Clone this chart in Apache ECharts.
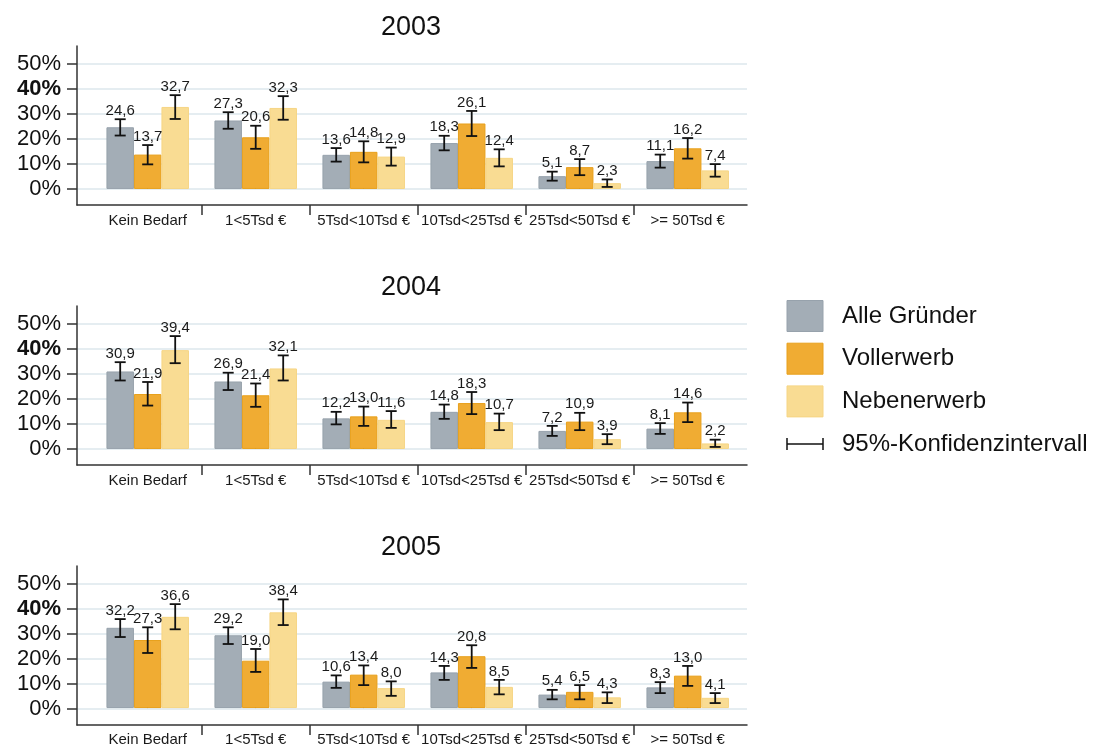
<!DOCTYPE html>
<html>
<head>
<meta charset="utf-8">
<script src="https://cdn.jsdelivr.net/npm/echarts@6/dist/echarts.min.js"></script>
<style>
  html, body { margin: 0; padding: 0; background: #fff; }
  #chart { width: 1094px; height: 747px; }
</style>
</head>
<body>
<div id="chart"></div>
<script>
// Kapitalbedarf bei Gründung, Anteile in Prozent je Jahr
const years = ['2003', '2004', '2005'];
const categories = ['Kein Bedarf', '1<5Tsd €', '5Tsd<10Tsd €', '10Tsd<25Tsd €', '25Tsd<50Tsd €', '>= 50Tsd €'];
const seriesNames = ['Alle Gründer', 'Vollerwerb', 'Nebenerwerb'];
const ciLabel = '95%-Konfidenzintervall';
const yTicks = [0, 10, 20, 30, 40, 50];

const alle2003 = [24.6, 27.3, 13.6, 18.3, 5.1, 11.1];
const voll2003 = [13.7, 20.6, 14.8, 26.1, 8.7, 16.2];
const neben2003 = [32.7, 32.3, 12.9, 12.4, 2.3, 7.4];

const alle2004 = [30.9, 26.9, 12.2, 14.8, 7.2, 8.1];
const voll2004 = [21.9, 21.4, 13.0, 18.3, 10.9, 14.6];
const neben2004 = [39.4, 32.1, 11.6, 10.7, 3.9, 2.2];

const alle2005 = [32.2, 29.2, 10.6, 14.3, 5.4, 8.3];
const voll2005 = [27.3, 19.0, 13.4, 20.8, 6.5, 13.0];
const neben2005 = [36.6, 38.4, 8.0, 8.5, 4.3, 4.1];

// 95%-Konfidenzintervalle [untere, obere Grenze]
const alle2003CI = [[21.3, 27.8], [24.0, 30.6], [10.9, 16.3], [15.4, 21.2], [3.3, 6.9], [8.5, 13.7]];
const voll2003CI = [[9.8, 17.5], [16.0, 25.2], [10.6, 19.0], [21.1, 31.1], [5.5, 11.9], [12.1, 20.3]];
const neben2003CI = [[27.9, 37.4], [27.6, 37.0], [9.3, 16.5], [9.0, 15.8], [0.8, 3.8], [4.9, 9.9]];

const alle2004CI = [[27.3, 34.6], [23.5, 30.4], [9.8, 14.8], [12.0, 17.7], [5.2, 9.2], [6.0, 10.3]];
const voll2004CI = [[17.3, 26.7], [16.8, 26.1], [9.2, 16.9], [13.9, 22.7], [7.5, 14.4], [10.7, 18.5]];
const neben2004CI = [[34.2, 45.0], [27.3, 37.3], [8.4, 15.1], [7.5, 14.1], [1.9, 5.9], [0.8, 3.7]];

const alle2005CI = [[28.5, 35.7], [25.7, 32.4], [8.1, 13.1], [11.3, 16.9], [3.5, 7.3], [6.0, 10.4]];
const voll2005CI = [[22.1, 32.4], [14.5, 23.7], [9.2, 17.1], [16.1, 25.2], [3.5, 9.2], [8.9, 16.9]];
const neben2005CI = [[31.6, 41.7], [33.3, 43.6], [4.9, 10.7], [5.5, 11.3], [2.0, 6.3], [2.0, 6.0]];

const panels = [
  { year: years[0], values: [alle2003, voll2003, neben2003], ci: [alle2003CI, voll2003CI, neben2003CI] },
  { year: years[1], values: [alle2004, voll2004, neben2004], ci: [alle2004CI, voll2004CI, neben2004CI] },
  { year: years[2], values: [alle2005, voll2005, neben2005], ci: [alle2005CI, voll2005CI, neben2005CI] }
];

// ---- layout & style ----
const FONT = '"Liberation Sans", Arial, Helvetica, sans-serif';
const FILL = ['#a3adb6', '#f0ac33', '#f9dc93'];
const EDGE = ['#97a2ac', '#e8a01c', '#f6d584'];
const INK = '#111';
const AXIS = '#333';
const GRID = '#e5edf1';
const Y_MIN = -6.4, Y_MAX = 57;
const FRAME_LEFT = 77, FRAME_RIGHT = 747;
const CAT_LEFT = 93.7, CAT_W = 108;
const BAR_W = 27.5;
const PANEL_TOP = [46, 306, 566];
const PANEL_H = 159;

const X_MIN = -(CAT_LEFT - FRAME_LEFT) / CAT_W;
const X_MAX = categories.length + (FRAME_RIGHT - (CAT_LEFT + categories.length * CAT_W)) / CAT_W;

const fmt = v => v.toFixed(1).replace('.', ',');

function renderErrorBar(params, api) {
  const c = api.value(0), s = api.value(1);
  const lo = api.value(2), hi = api.value(3), v = api.value(4);
  const xc = api.coord([c, 0])[0] + (s - 1) * BAR_W;
  const yLo = api.coord([c, lo])[1];
  const yHi = api.coord([c, hi])[1];
  const hw = 5.5;
  const st = { stroke: INK, lineWidth: 1.8 };
  return {
    type: 'group',
    children: [
      { type: 'line', shape: { x1: xc, y1: yLo, x2: xc, y2: yHi }, style: st },
      { type: 'line', shape: { x1: xc - hw, y1: yLo, x2: xc + hw, y2: yLo }, style: st },
      { type: 'line', shape: { x1: xc - hw, y1: yHi, x2: xc + hw, y2: yHi }, style: st },
      { type: 'text', x: xc, y: yHi - 1,
        style: { text: fmt(v), fill: '#1a1a1a', font: '15px ' + FONT, align: 'center', verticalAlign: 'bottom' } }
    ]
  };
}

const grid = [], xAxis = [], yAxis = [], series = [], graphic = [];

panels.forEach((p, i) => {
  const top = PANEL_TOP[i];
  const frameIdx = grid.length;
  // frame grid: axis lines, y labels, gridlines, category boundary ticks
  grid.push({ left: FRAME_LEFT, width: FRAME_RIGHT - FRAME_LEFT, top: top, height: PANEL_H });
  // plotting grid: bars on categories
  const barIdx = grid.length;
  grid.push({ left: CAT_LEFT, width: CAT_W * categories.length, top: top, height: PANEL_H });

  xAxis.push({
    gridIndex: frameIdx, type: 'value', min: X_MIN, max: X_MAX,
    axisLine: { show: true, onZero: false, lineStyle: { color: AXIS, width: 1.5 } },
    axisTick: { show: true, length: 10, customValues: [1, 2, 3, 4, 5], lineStyle: { color: AXIS, width: 1.5 } },
    axisLabel: { show: false },
    splitLine: { show: false }
  });
  yAxis.push({
    gridIndex: frameIdx, type: 'value', min: Y_MIN, max: Y_MAX,
    axisLine: { show: true, onZero: false, lineStyle: { color: AXIS, width: 1.5 } },
    axisTick: { show: true, length: 10, customValues: yTicks, lineStyle: { color: AXIS, width: 1.5 } },
    axisLabel: {
      customValues: yTicks, margin: 16, color: INK, fontSize: 22, fontFamily: FONT,
      formatter: v => (v === 40 ? '{b|40%}' : v + '%'),
      rich: { b: { fontWeight: 'bold', fontSize: 22, fontFamily: FONT, color: INK } }
    },
    splitLine: { show: true, lineStyle: { color: GRID, width: 2 } }
  });

  xAxis.push({
    gridIndex: barIdx, type: 'category', data: categories,
    axisLine: { show: false },
    axisTick: { show: true, alignWithLabel: true, inside: true, length: 3, lineStyle: { color: AXIS, width: 1 } },
    axisLabel: { interval: 0, margin: 8, color: '#1a1a1a', fontSize: 15, fontFamily: FONT },
    splitLine: { show: false }
  });
  yAxis.push({ gridIndex: barIdx, type: 'value', min: Y_MIN, max: Y_MAX, show: false, splitLine: { show: false } });

  const xAxisIdx = xAxis.length - 1, yAxisIdx = yAxis.length - 1;

  p.values.forEach((vals, s) => {
    series.push({
      type: 'bar', name: seriesNames[s], xAxisIndex: xAxisIdx, yAxisIndex: yAxisIdx,
      data: vals, barWidth: BAR_W, barGap: '0%',
      itemStyle: { color: FILL[s], borderColor: EDGE[s], borderWidth: 1 },
      silent: true, z: 2
    });
  });

  const errData = [];
  p.ci.forEach((ci, s) => ci.forEach((r, c) => errData.push([c, s, r[0], r[1], p.values[s][c]])));
  series.push({
    type: 'custom', xAxisIndex: xAxisIdx, yAxisIndex: yAxisIdx,
    renderItem: renderErrorBar, data: errData, encode: { x: 0, y: 3 },
    silent: true, z: 5
  });

  graphic.push({
    type: 'text', x: 411, y: top - 18,
    style: { text: p.year, fill: INK, font: '27px ' + FONT, align: 'center', verticalAlign: 'middle' }
  });
});

// legend
const LX = 787, LT = 316, LSTEP = 42.7;
seriesNames.forEach((n, s) => {
  graphic.push({
    type: 'rect', x: LX, y: LT + s * LSTEP - 15.5,
    shape: { width: 36, height: 31 },
    style: { fill: FILL[s], stroke: EDGE[s], lineWidth: 1 }
  });
  graphic.push({
    type: 'text', x: 842, y: LT + s * LSTEP,
    style: { text: n, fill: INK, font: '24px ' + FONT, verticalAlign: 'middle' }
  });
});
const ciY = LT + 3 * LSTEP;
graphic.push({
  type: 'group', children: [
    { type: 'line', shape: { x1: LX, y1: ciY, x2: LX + 36, y2: ciY }, style: { stroke: INK, lineWidth: 1.5 } },
    { type: 'line', shape: { x1: LX, y1: ciY - 6, x2: LX, y2: ciY + 6 }, style: { stroke: INK, lineWidth: 1.5 } },
    { type: 'line', shape: { x1: LX + 36, y1: ciY - 6, x2: LX + 36, y2: ciY + 6 }, style: { stroke: INK, lineWidth: 1.5 } }
  ]
});
graphic.push({
  type: 'text', x: 842, y: ciY,
  style: { text: ciLabel, fill: INK, font: '24px ' + FONT, verticalAlign: 'middle' }
});

const chart = echarts.init(document.getElementById('chart'), null, { renderer: 'canvas' });
chart.setOption({
  animation: false,
  backgroundColor: '#fff',
  grid, xAxis, yAxis, series, graphic
});
</script>
</body>
</html>
